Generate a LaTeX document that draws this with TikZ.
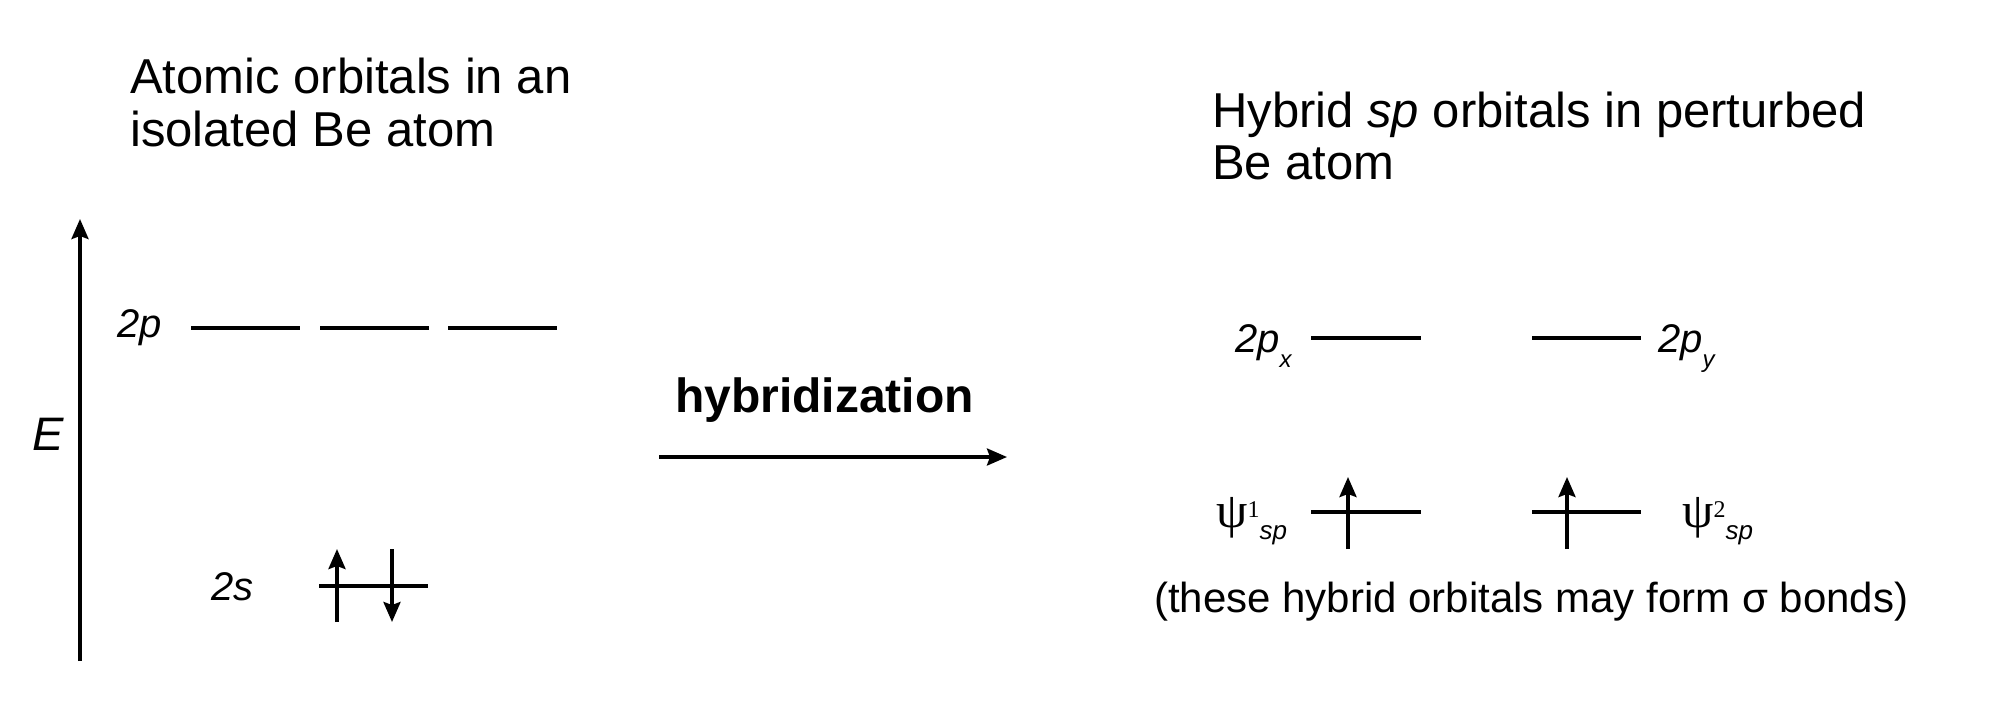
\documentclass[tikz,border=0pt]{standalone}
\usepackage{fontspec}
\setmainfont{Liberation Sans}
\newfontfamily\seriffont{Liberation Serif}
\usetikzlibrary{arrows.meta}
\begin{document}
\begin{tikzpicture}[x=1pt,y=-1pt,
  level/.style={line width=4pt},
  spin/.style={line width=3.5pt,-{Stealth[length=20pt,width=17pt,inset=3pt]}},
  txt/.style={inner sep=0pt,anchor=base west},
  ttl/.style={txt,font=\fontsize{49}{49}\selectfont},
  lbl/.style={txt,font=\fontsize{40}{40}\selectfont\itshape}]
\useasboundingbox[fill=white] (0,0) rectangle (1990,726);

% energy axis
\coordinate (axb) at (80,661);
\coordinate (axt) at (80,219);
\draw[spin] (axb) -- (axt);
\node[inner sep=0pt,font=\fontsize{47}{47}\selectfont\itshape] (E) at (48,434) {E};

% left title
\node[ttl] (t1a) at (130,93) {Atomic orbitals in an};
\node[ttl] (t1b) at (130,146) {isolated Be atom};

% 2p levels
\node[lbl] (l2p) at (117,337) {2p};
\coordinate (pa1) at (191,328); \coordinate (pa2) at (300,328);
\coordinate (pb1) at (320,328); \coordinate (pb2) at (429,328);
\coordinate (pc1) at (448,328); \coordinate (pc2) at (557,328);
\draw[level] (pa1) -- (pa2);
\draw[level] (pb1) -- (pb2);
\draw[level] (pc1) -- (pc2);

% 2s level
\node[lbl] (l2s) at (211,600) {2s};
\coordinate (s1) at (319,586); \coordinate (s2) at (428,586);
\draw[level] (s1) -- (s2);
\coordinate (u1b) at (337,622); \coordinate (u1t) at (337,549);
\coordinate (d1t) at (392,549); \coordinate (d1b) at (392,622);
\draw[spin] (u1b) -- (u1t);
\draw[spin] (d1t) -- (d1b);

% hybridization arrow
\node[txt,font=\fontsize{48}{48}\selectfont\bfseries] (hyb) at (675,412) {hybridization};
\coordinate (ha) at (659,457); \coordinate (hb) at (1007,457);
\draw[spin] (ha) -- (hb);

% right title
\node[ttl] (t2a) at (1212,127) {Hybrid \textit{sp} orbitals in perturbed};
\node[ttl] (t2b) at (1212,179) {Be atom};

% 2px, 2py
\node[lbl] (l2px) at (1235,352) {2p\raisebox{-15pt}{\fontsize{24}{24}\selectfont x}};
\coordinate (x1) at (1311,338); \coordinate (x2) at (1421,338);
\coordinate (y1) at (1532,338); \coordinate (y2) at (1641,338);
\draw[level] (x1) -- (x2);
\draw[level] (y1) -- (y2);
\node[lbl] (l2py) at (1658,352) {2p\raisebox{-15pt}{\fontsize{24}{24}\selectfont y}};

% sp hybrids
\coordinate (h1a) at (1311,512); \coordinate (h1b) at (1421,512);
\coordinate (h2a) at (1532,512); \coordinate (h2b) at (1641,512);
\draw[level] (h1a) -- (h1b);
\draw[level] (h2a) -- (h2b);
\coordinate (e1b) at (1348,549); \coordinate (e1t) at (1348,477);
\coordinate (e2b) at (1567,549); \coordinate (e2t) at (1567,477);
\draw[spin] (e1b) -- (e1t);
\draw[spin] (e2b) -- (e2t);
\node[txt] (psi1) at (1216,527) {{\seriffont\fontsize{50}{50}\selectfont ψ}\raisebox{10pt}{\seriffont\fontsize{24}{24}\selectfont 1}\raisebox{-12pt}{\fontsize{26}{26}\selectfont\itshape sp}};
\node[txt] (psi2) at (1682,527) {{\seriffont\fontsize{50}{50}\selectfont ψ}\raisebox{10pt}{\seriffont\fontsize{24}{24}\selectfont 2}\raisebox{-12pt}{\fontsize{26}{26}\selectfont\itshape sp}};

% note
\node[txt,font=\fontsize{42}{42}\selectfont] (note) at (1154,612) {(these hybrid orbitals may form σ bonds)};
\end{tikzpicture}
\end{document}
